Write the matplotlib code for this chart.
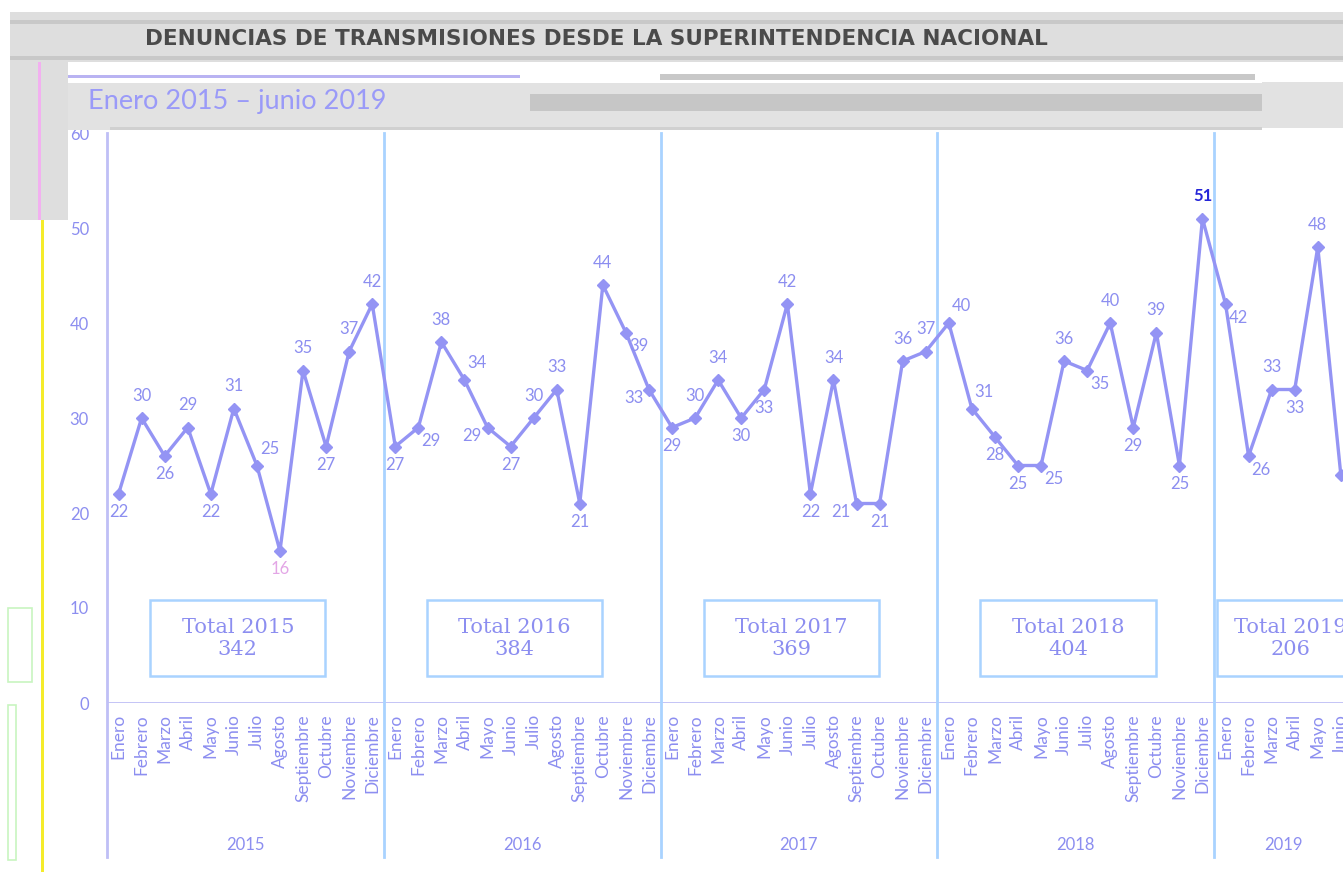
import matplotlib
matplotlib.use("Agg")
import matplotlib.pyplot as plt
from matplotlib.patches import Rectangle
import numpy as np

plt.rcParams['font.family'] = ['Lato', 'DejaVu Sans']

# ---------------- data ----------------
years = ["2015", "2016", "2017", "2018", "2019"]
months = ["Enero", "Febrero", "Marzo", "Abril", "Mayo", "Junio", "Julio",
          "Agosto", "Septiembre", "Octubre", "Noviembre", "Diciembre"]
values_2015 = [22, 30, 26, 29, 22, 31, 25, 16, 35, 27, 37, 42]
values_2016 = [27, 29, 38, 34, 29, 27, 30, 33, 21, 44, 39, 33]
values_2017 = [29, 30, 34, 30, 33, 42, 22, 34, 21, 21, 36, 37]
values_2018 = [40, 31, 28, 25, 25, 36, 35, 40, 29, 39, 25, 51]
values_2019 = [42, 26, 33, 33, 48, 24]
yearly = [values_2015, values_2016, values_2017, values_2018, values_2019]

title = "DENUNCIAS DE TRANSMISIONES DESDE LA SUPERINTENDENCIA NACIONAL"
subtitle = "Enero 2015 – junio 2019"

# label placement (style): a=above, b=below, ar/br/bl=diagonal
placements = [
    "b", "a", "b", "a", "b", "a", "ar", "b", "a", "b", "a", "a",
    "b", "br", "a", "ar", "bl", "b", "a", "a", "b", "a", "br", "bl",
    "b", "a", "a", "b", "b", "a", "b", "a", "bl", "b", "a", "a",
    "ar", "ar", "b", "b", "br", "a", "br", "a", "b", "a", "b", "a",
    "br", "br", "a", "b", "a", "br",
]
offsets = {"a": (0, 16), "b": (0, -13), "ar": (9, 12), "br": (9, -10),
           "bl": (-11, -6)}

# ---------------- style ----------------
W, H = 1343, 872
LINE = "#9494f4"
TXT = "#8c8ef0"
SEP = "#a9d3ff"
AX = "#bfbff6"

fig = plt.figure(figsize=(W / 100, H / 100), dpi=100)
fig.patch.set_facecolor("white")


def fx(px):
    return px / W


def fy(py):
    return 1 - py / H


def frect(x0, y0, x1, y1, **kw):
    fig.patches.append(Rectangle((fx(x0), fy(y1)), fx(x1) - fx(x0), fy(y0) - fy(y1),
                                 transform=fig.transFigure, **kw))


# screenshot-like decorations
frect(10, 12, 1343, 62, facecolor="#dedede", edgecolor="none", zorder=0)
frect(10, 20, 1343, 24, facecolor="#c8c8c8", edgecolor="none", zorder=0)
frect(10, 56, 1343, 60, facecolor="#c8c8c8", edgecolor="none", zorder=0)
frect(10, 62, 68, 220, facecolor="#dedede", edgecolor="none", zorder=0)
frect(68, 83, 1262, 130, facecolor="#e2e2e2", edgecolor="none", zorder=0)
frect(530, 94, 1262, 111, facecolor="#c6c6c6", edgecolor="none", zorder=0)
frect(1262, 82, 1343, 128, facecolor="#e2e2e2", edgecolor="none", zorder=0)
frect(68, 75, 520, 78, facecolor="#b9b3f2", edgecolor="none", zorder=0)
frect(660, 74, 1255, 80, facecolor="#c8c8c8", edgecolor="none", zorder=0)
frect(110, 127, 1262, 130, facecolor="#d0d0d0", edgecolor="none", zorder=0)
frect(38, 62, 41, 220, facecolor="#f2b0f0", edgecolor="none", zorder=0)
frect(41, 220, 44, 872, facecolor="#f5ec2a", edgecolor="none", zorder=0)
frect(8, 608, 32, 682, facecolor="none", edgecolor="#c8f5c0", lw=1.2, zorder=0)
frect(8, 705, 16, 860, facecolor="none", edgecolor="#c8f5c0", lw=1.2, zorder=0)

fig.text(fx(145), fy(39), title, fontsize=15.5, fontweight="bold", color="#4a4a4a",
         ha="left", va="center", family="DejaVu Sans")
fig.text(fx(88), fy(101), subtitle, fontsize=19.5, color="#9a9af8", ha="left", va="center")

# ---------------- axes ----------------
x0_px, x_top, x_bot = 107, 133, 703
month_px = (1214 - 107) / 48
ax = fig.add_axes([fx(x0_px), fy(x_bot), 1 - fx(x0_px), fy(x_top) - fy(x_bot)])
ax.set_facecolor("none")

all_vals = [v for ys in yearly for v in ys]
n = len(all_vals)
xs = np.arange(n) + 0.5
ax.set_xlim(0, (W - x0_px) / month_px)
ax.set_ylim(0, 60)

ax.plot(xs, all_vals, color=LINE, lw=2.4, marker="D", markersize=6.5,
        markerfacecolor=LINE, markeredgecolor=LINE, zorder=3, clip_on=False)

imax = int(np.argmax(all_vals))
imin = int(np.argmin(all_vals))
for i, (x, v) in enumerate(zip(xs, all_vals)):
    dx, dy = offsets[placements[i]]
    color, weight = TXT, "normal"
    if i == imin:
        color = "#e3a6e6"
    if i == imax:
        color, weight = "#2525d8", "bold"
    ax.annotate(str(v), (x, v), xytext=(dx, dy), textcoords="offset points",
                ha="center", va="center", fontsize=12, color=color,
                fontweight=weight, zorder=4, annotation_clip=False)

for s in ax.spines.values():
    s.set_visible(False)
ax.axhline(0, color=AX, lw=2, zorder=1)

xtr = ax.get_xaxis_transform()
bottom_frac = (x_bot - 857) / (x_bot - x_top)
ax.plot([0, 0], [bottom_frac, 1], transform=xtr, color=AX, lw=2, clip_on=False)
cum = 0
for k, ys in enumerate(yearly):
    start = cum
    cum += len(ys)
    full = len(ys) == 12
    if k < len(yearly) - 1:
        ax.plot([cum, cum], [bottom_frac, 1], transform=xtr,
                color=SEP, lw=2, clip_on=False, zorder=1)
    center = start + 6 if full else start + len(ys) / 2
    ax.text(center, -0.25, years[k], transform=xtr,
            ha="center", va="center", fontsize=12, color=TXT)
    # total box
    bw, bh, by = 7.6, 8.0, 2.8
    bleft = start + 1.87 if full else start + 0.13
    tcenter = bleft + bw / 2 if full else start + 3.3
    ax.add_patch(Rectangle((bleft, by), bw, bh, facecolor="white",
                           edgecolor=SEP, lw=1.8, zorder=2, clip_on=False))
    ax.text(tcenter, by + bh / 2, f"Total {years[k]}\n{sum(ys)}",
            ha="center", va="center", fontsize=15, color=TXT,
            linespacing=1.15, zorder=3, family="DejaVu Serif")

ax.set_yticks(range(0, 61, 10))
ax.tick_params(axis="y", length=0, pad=13, labelsize=12, labelcolor=TXT)
ax.set_xticks(xs)
ax.set_xticklabels([months[i % 12] for i in range(n)], rotation=90,
                   fontsize=12.5, color=TXT, va="top", ha="center")
ax.tick_params(axis="x", length=0, pad=8)

fig.savefig("out.png", dpi=100)
